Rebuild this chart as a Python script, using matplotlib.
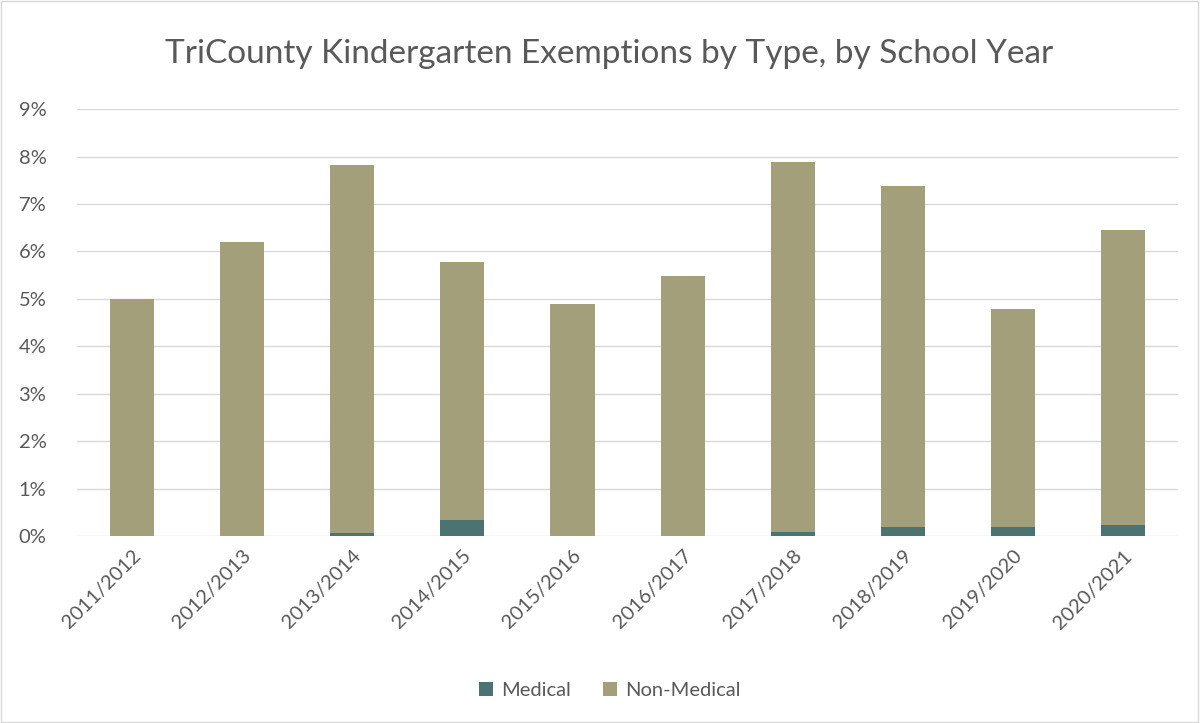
import matplotlib.pyplot as plt
import numpy as np
from matplotlib.ticker import PercentFormatter
from matplotlib.patches import Rectangle

# school years and exemption rates (% of kindergarteners)
years = ['2011/2012', '2012/2013', '2013/2014', '2014/2015', '2015/2016',
         '2016/2017', '2017/2018', '2018/2019', '2019/2020', '2020/2021']
total = [5.0, 6.2, 7.82, 5.77, 4.9, 5.48, 7.88, 7.38, 4.78, 6.45]
medical = [0.0, 0.0, 0.07, 0.33, 0.0, 0.0, 0.09, 0.18, 0.18, 0.24]
non_medical = [t - m for t, m in zip(total, medical)]

plt.rcParams['font.family'] = ['Lato', 'DejaVu Sans']
text_col = '#595959'
med_col = '#4A7371'
non_col = '#A39F7B'

fig = plt.figure(figsize=(12, 7.23), dpi=100)
fig.patches.append(Rectangle((0.001, 0.001), 0.997, 0.997, transform=fig.transFigure,
                             fill=False, edgecolor='#D9D9D9', linewidth=1))
ax = fig.add_axes([0.0642, 0.2586, 0.9175, 0.5904])

x = np.arange(len(years))
ax.bar(x, medical, width=0.4, color=med_col, label='Medical', zorder=3)
ax.bar(x, non_medical, width=0.4, bottom=medical, color=non_col, label='Non-Medical', zorder=3)

ax.set_ylim(0, 9)
ax.set_xlim(-0.5, len(years) - 0.5)
ax.set_yticks(range(10))
ax.yaxis.set_major_formatter(PercentFormatter(decimals=0))
ax.grid(axis='y', color='#D9D9D9', linewidth=1, zorder=0)
for s in ax.spines.values():
    s.set_visible(False)
ax.tick_params(length=0, labelsize=14.5, colors=text_col)
ax.tick_params(axis='y', pad=22)
ax.tick_params(axis='x', pad=8)
ax.set_xticks(x)
ax.set_xticklabels(years, rotation=45, ha='right', rotation_mode='anchor')

fig.text(0.508, 0.925, 'TriCounty Kindergarten Exemptions by Type, by School Year',
         ha='center', va='center', fontsize=24, color=text_col)

ax.legend(loc='center', bbox_to_anchor=(0.508, 0.045), bbox_transform=fig.transFigure,
          ncol=2, frameon=False, fontsize=14.5, labelcolor=text_col,
          handlelength=0.7, handleheight=0.7, columnspacing=1.6, handletextpad=0.4)

fig.savefig('out.png', dpi=100)
